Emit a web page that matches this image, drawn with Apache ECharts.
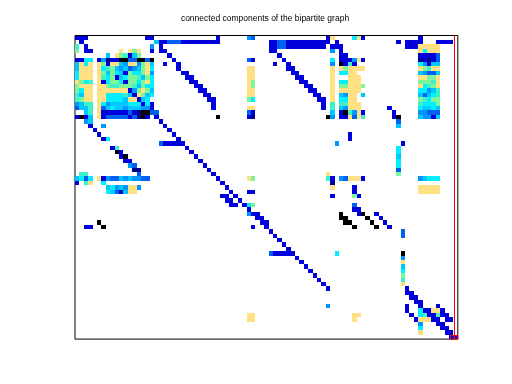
<!DOCTYPE html>
<html>
<head>
<meta charset="utf-8">
<style>html,body{margin:0;padding:0;background:#fff}#c{width:512px;height:384px}</style>
<script src="https://cdn.jsdelivr.net/npm/echarts@6/dist/echarts.min.js"></script>
</head>
<body>
<div id="c"></div>
<script>
const chartTitle = "connected components of the bipartite graph";
const columnCount = 87;
const rowCount = 69;
// level 0 is the darkest (largest magnitude), 1 the palest
const levelColors = ["#000000","#FFE082","#7DF59B","#40F0C8","#00F0FF","#00C8FF","#0096FF","#0060F0","#0000DC","#000090"];
// one entry per matrix row: [first column, one level digit per consecutive cell]
const matrixRows = [
[[0,"888"],[16,"88"],[32,"8"],[39,"67"],[57,"8"],[58,"1"],[63,"4"],[64,"1"],[65,"8"],[78,"8"]],
[[1,"8"],[18,"5"],[19,"88777888888888"],[44,"8877"],[48,"8888888888"],[59,"8"],[73,"8"],[75,"8888"],[82,"8888"]],
[[0,"3"],[2,"8"],[17,"6"],[19,"8"],[44,"8877"],[48,"888888888"],[58,"888"],[75,"888"],[78,"11111"]],
[[0,"2"],[2,"88"],[10,"1"],[12,"121"],[17,"8"],[19,"88"],[44,"88"],[58,"6"],[60,"8"],[78,"14111"]],
[[7,"5"],[9,"123"],[12,"852"],[21,"8"],[46,"8"],[60,"88"],[78,"88887"]],
[[0,"8844"],[5,"8698800770070"],[22,"8"],[39,"78"],[47,"8"],[58,"4"],[60,"888"],[63,"6"],[64,"1"],[65,"8"],[78,"98987"]],
[[0,"5141"],[5,"1281156116215"],[20,"8"],[23,"8"],[45,"8"],[48,"8"],[58,"6"],[60,"0838"],[78,"46855"]],
[[0,"5111"],[5,"1432565765214"],[23,"8"],[39,"11"],[48,"88"],[58,"1"],[60,"12"],[62,"1111"],[78,"12311"]],
[[0,"4111"],[5,"1252458244216"],[24,"88"],[39,"11"],[49,"88"],[58,"1"],[60,"44"],[62,"11"],[78,"56775"]],
[[0,"4111"],[5,"1342854223524"],[25,"88"],[39,"11"],[50,"88"],[58,"1"],[62,"111"],[78,"11221"]],
[[0,"1243"],[5,"1842248224214"],[26,"88"],[39,"12"],[51,"88"],[58,"1"],[60,"44"],[62,"111"],[78,"22231"]],
[[0,"2111"],[5,"1123322235244"],[27,"88"],[39,"12"],[52,"88"],[58,"1"],[60,"22"],[62,"111"],[65,"2"],[78,"14321"]],
[[0,"2411"],[5,"1111111"],[12,"862125"],[28,"88"],[39,"11"],[53,"88"],[58,"1"],[60,"11111"],[78,"44653"]],
[[0,"3511"],[5,"11"],[7,"4444"],[11,"3"],[12,"581254"],[29,"88"],[39,"11"],[54,"88"],[58,"1"],[60,"56"],[62,"11"],[65,"5"],[78,"57543"]],
[[0,"3211"],[5,"11"],[7,"44445"],[12,"11854"],[30,"88"],[39,"24"],[55,"88"],[58,"1"],[60,"44"],[62,"11"],[78,"23422"]],
[[0,"6533"],[5,"1465555444848"],[31,"8"],[56,"8"],[58,"3"],[60,"33"],[62,"111"],[78,"34442"]],
[[0,"7553"],[5,"1754556555668"],[31,"8"],[39,"11"],[56,"8"],[58,"3"],[60,"56"],[62,"111"],[71,"8"],[78,"45545"]],
[[2,"53"],[5,"18888887890077"],[39,"78"],[58,"5"],[60,"80"],[62,"3"],[63,"6"],[64,"1"],[65,"8"],[72,"8"],[78,"66777"]],
[[0,"8085"],[5,"187777787908"],[18,"8"],[32,"0"],[39,"89"],[57,"0"],[58,"6"],[60,"88"],[62,"1"],[63,"7"],[64,"1"],[65,"3"],[72,"8"],[73,"0"],[78,"56685"]],
[[2,"65"],[19,"8"],[73,"7"]],
[[3,"8"],[6,"6"],[20,"8"],[73,"5"]],
[[4,"8"],[21,"8"]],
[[5,"8"],[22,"8"],[62,"8"]],
[[6,"84"],[23,"8"],[62,"8"]],
[[19,"7"],[20,"88888"],[59,"6"],[74,"8"]],
[[8,"83"],[25,"8"],[73,"4"]],
[[9,"08"],[26,"8"],[73,"4"]],
[[10,"80"],[27,"8"],[73,"5"]],
[[11,"88"],[28,"8"],[73,"4"]],
[[12,"67"],[29,"8"],[73,"4"]],
[[13,"99"],[30,"8"],[73,"7"]],
[[1,"33"],[14,"7"],[31,"8"],[57,"1"],[73,"2"]],
[[0,"5474"],[5,"186775656677"],[32,"8"],[39,"12"],[57,"38"],[60,"67"],[62,"111"],[65,"8"],[78,"65444"]],
[[0,"8"],[2,"31"],[6,"4"],[33,"8"],[58,"9"]],
[[7,"54656116"],[34,"8"],[58,"1"],[63,"8"],[78,"11111"]],
[[7,"4578511"],[35,"8"],[39,"88"],[63,"8"],[78,"11111"]],
[[33,"88"],[36,"8"],[58,"8"],[63,"28"]],
[[34,"88"],[37,"8"]],
[[35,"88"],[38,"8"],[39,"42"],[63,"7"]],
[[39,"8"],[63,"88"]],
[[39,"6"],[40,"88"],[60,"0"],[64,"8"],[65,"0"],[68,"8"]],
[[41,"88"],[60,"00"],[66,"0"],[69,"8"]],
[[5,"0"],[42,"88"],[61,"00"],[67,"0"],[70,"8"]],
[[2,"88"],[6,"0"],[40,"8"],[43,"8"],[63,"0"],[68,"0"],[71,"8"]],
[[44,"8"],[74,"7"]],
[[45,"8"],[74,"7"]],
[[46,"8"]],
[[47,"8"]],
[[48,"8"]],
[[44,"7"],[45,"88888"],[59,"4"],[74,"0"]],
[[50,"8"],[74,"6"]],
[[51,"8"],[74,"1"]],
[[52,"8"],[74,"5"]],
[[53,"8"],[74,"4"]],
[[54,"8"],[74,"2"]],
[[55,"8"],[74,"3"]],
[[56,"8"],[74,"1"]],
[[57,"8"],[75,"8"]],
[[75,"88"]],
[[76,"88"]],
[[77,"88"]],
[[57,"6"],[75,"8"],[78,"8"],[82,"8"]],
[[75,"8"],[78,"4"],[79,"88"],[81,"11"],[83,"8"]],
[[39,"11"],[63,"11"],[76,"8"],[78,"43"],[80,"88"],[82,"3"],[83,"88"]],
[[39,"11"],[63,"1"],[77,"8"],[78,"111"],[81,"88"],[84,"88"]],
[[78,"6"],[82,"88"]],
[[78,"4"],[83,"88"]],
[[78,"1"],[84,"88"]],
[[85,"88"]]
];
// component boundaries drawn in red
const blockLineX = [86.25, 86.25];
const blockLineY = [0, 69];
const blockBoxX = [85.34, 87, 87, 85.34, 85.34];
const blockBoxY = [68.18, 68.18, 69, 69, 68.18];

const cells = [];
matrixRows.forEach(function (runs, r) {
  runs.forEach(function (run) {
    for (let i = 0; i < run[1].length; i++) cells.push([run[0] + i, r, Number(run[1][i])]);
  });
});

const chart = echarts.init(document.getElementById('c'), null, {renderer: 'canvas'});
chart.setOption({
  animation: false,
  backgroundColor: '#fff',
  title: {
    text: chartTitle, left: 260, top: 9, textAlign: 'center',
    textStyle: {fontFamily: '"Liberation Sans", sans-serif', fontSize: 8.5, fontWeight: 'normal', color: '#000'}
  },
  grid: {left: 75, top: 35.5, width: 382.8, height: 303.6, show: true, borderColor: '#000', borderWidth: 1, backgroundColor: '#fff', containLabel: false},
  xAxis: {type: 'value', min: 0, max: columnCount, show: false, splitLine: {show: false}},
  yAxis: {type: 'value', min: 0, max: rowCount, inverse: true, show: false, splitLine: {show: false}},
  series: [
    {
      type: 'custom', clip: true, silent: true,
      encode: {x: 0, y: 1},
      data: cells,
      renderItem: function (params, api) {
        const a = api.coord([api.value(0), api.value(1)]);
        const b = api.coord([api.value(0) + 1, api.value(1) + 1]);
        const x0 = Math.round(a[0]), y0 = Math.round(a[1]);
        return {
          type: 'rect',
          shape: {x: x0, y: y0, width: Math.round(b[0]) - x0, height: Math.round(b[1]) - y0},
          style: {fill: levelColors[api.value(2)]}
        };
      }
    },
    {
      type: 'line', silent: true, symbol: 'none', clip: false, z: 5,
      data: blockLineX.map(function (x, i) { return [x, blockLineY[i]]; }),
      lineStyle: {color: '#FF0000', width: 1}
    },
    {
      type: 'line', silent: true, symbol: 'none', clip: false, z: 5,
      data: blockBoxX.map(function (x, i) { return [x, blockBoxY[i]]; }),
      lineStyle: {color: '#FF0000', width: 1}
    }
  ]
});
</script>
</body>
</html>
